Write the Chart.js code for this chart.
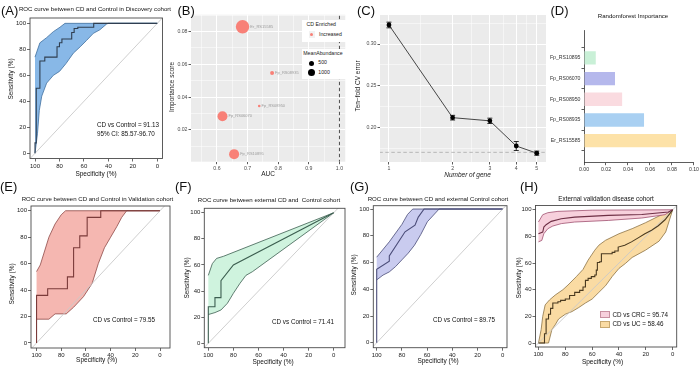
<!DOCTYPE html>
<html><head><meta charset="utf-8">
<script src="https://cdn.jsdelivr.net/npm/chart.js@4.4.1/dist/chart.umd.min.js"></script>
<style>
html,body{margin:0;padding:0;background:#fff;}
#wrap{position:relative;width:700px;height:366px;overflow:hidden;font-family:"Liberation Sans",Arial,Helvetica,sans-serif;color:#111;}
#wrap canvas{position:absolute;}
.t{position:absolute;white-space:pre;line-height:1;}
.bx{position:absolute;}
</style></head><body><div id="wrap"></div>
<script>
// ================= DATA =================
const rocTicks = [0, 20, 40, 60, 80, 100];
const chanceLine = [[110, -10], [-10, 110]];

// (A) Discovery cohort  [specificity, sensitivity]
const aCurve = [[100,0],[100,8],[99,8],[99,50],[96,50],[96,71],[92,71],[92,74],[82,74],[82,82],[80,82],[80,85],[78,85],[78,88],[70,88],[70,93],[68,93],[68,96],[65,96],[65,97],[52,97],[52,100],[0,100]];
const aUpper = [[100,74],[96,85],[90.5,89],[85,93.6],[79.6,97],[75.5,100],[0,100]];
const aLower = [[100,0],[98,15],[96.5,33],[94.5,44],[90.5,54],[85,60],[80,63],[74.7,69],[68.7,77],[63,82],[58,86.7],[52.3,92.3],[47,95],[41.4,99.5],[40,100],[0,100]];

// (B) AUC vs importance
const bGenes = ['Er_RS15585', 'Fp_RS08935', 'Fp_RS08950', 'Fp_RS06070', 'Fp_RS10895'];
const bAuc = [0.6835, 0.780, 0.738, 0.618, 0.656];
const bImportance = [0.083, 0.0548, 0.0346, 0.0283, 0.0052];
const bMeanAbundance = [3300, 290, 120, 1800, 1850];
const bXMajor = [0.6, 0.7, 0.8, 0.9, 1.0];
const bXMinor = [0.55, 0.65, 0.75, 0.85, 0.95];
const bYMajor = [0.02, 0.04, 0.06, 0.08];
const bYMinor = [0.01, 0.03, 0.05, 0.07, 0.09];
const bAucLine = 1.0;

// (C) Ten-fold CV error
const cGenes = [1, 2, 3, 4, 5];
const cError = [0.3228, 0.2116, 0.2078, 0.1776, 0.1690];
const cSe = [0.0034, 0.0028, 0.0032, 0.0054, 0.0025];
const cThreshold = 0.1700;
const cXMajor = [1, 2, 3, 4, 5];
const cXMinor = [1.414, 2.449, 3.464, 4.472];
const cYMajor = [0.20, 0.25, 0.30];
const cYMinor = [0.175, 0.225, 0.275, 0.325];

// (D) Random forest importance
const dGenes = ['Fp_RS10895', 'Fp_RS06070', 'Fp_RS08950', 'Fp_RS08935', 'Er_RS15585'];
const dImportance = [0.0107, 0.0282, 0.0347, 0.0546, 0.0837];
const dColors = ['#C9F0D7', '#B5B8EC', '#FADBE0', '#A9D0F2', '#FDE2A8'];
const dXTicks = [0, 0.02, 0.04, 0.06, 0.08, 0.10];

// (E) Validation cohort
const eCurve = [[100,0],[100,36],[91,36],[91,41],[75,41],[75,50],[70,50],[70,72],[65,72],[65,81],[59,81],[59,95],[48,95],[48,100],[0,100]];
const eUpper = [[100,54],[97,59],[94,68],[90,80],[85,90],[80,97],[76.5,100],[0,100]];
const eLower = [[100,18],[90,18],[85,22],[76,22],[70,27],[62,35],[55,45],[50,60],[45,72],[40,80],[35,88],[31,95],[27,100],[0,100]];

// (F) external CD vs Control
const fCurve = [[100,0],[100,28],[94.7,28],[94.7,35],[89.9,35],[89.9,48],[80,60],[0,100]];
const fUpper = [[100,52],[96.8,61],[93.4,65],[88,66.6],[0,100]];
const fLower = [[100,22],[94.7,23.5],[89.9,25.5],[84.8,30.6],[80,38.3],[74.7,46],[70,52],[64.9,54.8],[0,100]];

// (G) CD vs external Control
const gCurve = [[100,0],[100,55],[90,61],[90,65],[77.5,83],[69.6,88],[67,94],[62.4,100],[0,100]];
const gUpper = [[100,64],[90,75.5],[80,88.5],[75.5,96],[71.4,100],[0,100]];
const gLower = [[100,47],[95,50.6],[90,53],[85,57],[80,62],[75,67],[70,73],[65,81],[59.8,90.5],[50.5,100],[0,100]];

// (H) External validation disease cohort
const hCrcCurve = [[100,82],[96.8,83.3],[96,87],[94.3,88.8],[90.5,91.3],[83,93.3],[73,94.5],[48,95.8],[23,96.5],[3.2,98.3],[0,100]];
const hCrcUpper = [[100,90.8],[96.8,96.3],[93,97.8],[85.5,98.8],[60,99.7],[0,100]];
const hCrcLower = [[100,75.9],[97.5,77],[96,82],[93,85.8],[89.3,87.8],[83,89.6],[73,90.8],[48,92],[23,93.8],[5.7,96.3],[0,100]];
const hUcCurve = [[100,0],[95.5,0],[95.5,7],[94.3,7],[94.3,18],[92.5,18],[92.5,21.6],[91,21.6],[91,26],[89.3,26],[89.3,30],[85.5,30],[85.5,31],[83.5,31],[83.5,32],[80,32],[80,33],[76.8,33],[76.8,35.6],[73,35.6],[73,38],[69.3,38],[69.3,39.5],[66.8,39.5],[66.8,42],[65,42],[65,47],[63,47],[63,48.5],[60.6,48.5],[60.6,49.8],[58,49.8],[58,51],[56.9,51],[56.9,54.7],[56.1,54.7],[56.1,60.4],[54.4,60.4],[54.4,61],[53.1,61],[53.1,67],[45.1,67],[45.1,68],[43.1,68],[43.1,69],[40.6,69],[40.6,72],[35.7,73.4],[30.7,75.9],[25.7,78.9],[20.7,82],[15.7,84.6],[10.7,88],[5.7,92.5],[0.7,99],[0,100]];
const hUcUpper = [[100,0],[98,10],[96.8,20],[95,28.6],[91.8,32.3],[87.5,36],[81.8,40],[78,43.5],[71.8,49.8],[66.8,55.2],[63,62.2],[58,69.7],[55,73.4],[50,77.1],[40,82],[30.2,85.8],[20.2,90.3],[10.2,95.3],[0,100]];
const hUcLower = [[100,0],[92.5,0],[90,10],[87.5,13.7],[85,18],[80,21.6],[75,23.6],[70,26.6],[65,30],[60,33],[55,38],[50,43],[45,50],[40,56],[35.2,59.7],[30.2,64.2],[20.2,69.7],[10.2,76.4],[5.2,83.3],[0,100]];

// ================= RENDER =================
Chart.defaults.font.family = "'Liberation Sans', Arial, Helvetica, sans-serif";
Chart.defaults.animation = false;
Chart.defaults.responsive = false;
Chart.defaults.events = [];
Chart.defaults.plugins.legend.display = false;
Chart.defaults.plugins.tooltip.enabled = false;

const wrap = document.getElementById('wrap');
function mkCanvas(l, t, w, h) {
  const c = document.createElement('canvas');
  c.width = w; c.height = h;
  c.style.left = l + 'px'; c.style.top = t + 'px';
  c.style.width = w + 'px'; c.style.height = h + 'px';
  wrap.appendChild(c);
  return c;
}
function txt(s, x, y, size, opt) {
  opt = opt || {};
  const d = document.createElement('div');
  d.className = 't';
  d.textContent = s;
  d.style.fontSize = size + 'px';
  d.style.left = x + 'px';
  d.style.top = y + 'px';
  let tr = opt.left ? 'translate(0,-50%)' : 'translate(-50%,-50%)';
  if (opt.rot) tr += ' rotate(-90deg)';
  d.style.transform = tr;
  if (opt.color) d.style.color = opt.color;
  if (opt.italic) d.style.fontStyle = 'italic';
  wrap.appendChild(d);
  return d;
}
function box(x, y, w, h, css) {
  const d = document.createElement('div');
  d.className = 'bx';
  d.style.left = x + 'px'; d.style.top = y + 'px';
  d.style.width = w + 'px'; d.style.height = h + 'px';
  Object.assign(d.style, css || {});
  wrap.appendChild(d);
  return d;
}
const pts = arr => arr.map(p => ({x: p[0], y: p[1]}));
const poly = (up, lo) => pts(up).concat(pts(lo.slice().reverse()));
const isIn = (arr, v) => arr.some(a => Math.abs(a - v) < 1e-9);

const boxPlugin = {
  id: 'rbox',
  afterDatasetsDraw(ch) {
    const a = ch.chartArea, c = ch.ctx;
    c.save(); c.strokeStyle = '#4a4a4a'; c.lineWidth = 0.9;
    c.strokeRect(a.left, a.top, a.right - a.left, a.bottom - a.top);
    c.restore();
  }
};
const ggBg = {
  id: 'ggBg',
  beforeDraw(ch) {
    const a = ch.chartArea, c = ch.ctx;
    c.save(); c.fillStyle = '#EBEBEB';
    c.fillRect(a.left, a.top, a.right - a.left, a.bottom - a.top);
    c.restore();
  }
};

function rocAxis(range, sizeFn, horizontal) {
  return {
    type: 'linear', min: range[0], max: range[1], reverse: horizontal,
    afterBuildTicks: s => { s.ticks = rocTicks.map(v => ({value: v})); },
    afterFit: sizeFn,
    grid: {drawOnChartArea: false, drawTicks: true, tickLength: 3, tickWidth: 0.8, tickColor: '#444'},
    border: {display: false},
    ticks: {autoSkip: false, maxRotation: 0, padding: 1, color: '#222', font: {size: 6}}
  };
}

function makeROC(g, xr, yr, layers) {
  const cv = mkCanvas(g.cl, g.ct, g.cw, g.ch);
  const ds = [];
  layers.forEach(L => ds.push({data: pts(L.curve), showLine: true, borderColor: L.line, borderWidth: 1.1, pointRadius: 0, fill: false}));
  ds.push({data: pts(chanceLine), showLine: true, borderColor: '#c9c9c9', borderWidth: 0.9, pointRadius: 0, fill: false});
  layers.forEach(L => ds.push({data: poly(L.upper, L.lower), showLine: true, fill: 'shape', backgroundColor: L.fill, borderColor: L.edge, borderWidth: 0.8, pointRadius: 0}));
  new Chart(cv, {
    type: 'scatter',
    data: {datasets: ds},
    options: {
      layout: {padding: {left: 0, top: g.bt - g.ct, right: g.cl + g.cw - g.br, bottom: 0}},
      scales: {
        x: rocAxis(xr, s => { s.height = g.ct + g.ch - g.bb; }, true),
        y: rocAxis(yr, s => { s.width = g.bl - g.cl; }, false)
      }
    },
    plugins: [boxPlugin]
  });
}

// ---- A
makeROC({cl: 0, ct: 10, cw: 172, ch: 170, bl: 30, bt: 18, br: 162.5, bb: 158.5}, [-4.25, 104.1], [-4.0, 104.1],
  [{curve: aCurve, upper: aUpper, lower: aLower, fill: '#88B8E7', edge: '#3F6E9E', line: '#2F3E50'}]);
// ---- E
makeROC({cl: 0, ct: 200, cw: 175, ch: 166, bl: 31, bt: 206, br: 170, bb: 348}, [-8.1, 104.5], [-3.8, 103.6],
  [{curve: eCurve, upper: eUpper, lower: eLower, fill: '#F5B7B1', edge: '#8E4A48', line: '#7B3B3A'}]);
// ---- F
makeROC({cl: 175, ct: 200, cw: 175, ch: 166, bl: 204.3, bt: 208.3, br: 345, bb: 347.7}, [-9, 103.2], [-3.4, 103.4],
  [{curve: fCurve, upper: fUpper, lower: fLower, fill: '#CFF3DE', edge: '#3C5E50', line: '#3C5E50'}]);
// ---- G
makeROC({cl: 350, ct: 200, cw: 170, ch: 166, bl: 373.3, bt: 205.7, br: 507, bb: 347.7}, [-3.4, 102.7], [-3.7, 102.5],
  [{curve: gCurve, upper: gUpper, lower: gLower, fill: '#C9CBEF', edge: '#4A4C78', line: '#4A4C78'}]);
// ---- H
makeROC({cl: 512, ct: 200, cw: 188, ch: 166, bl: 535.5, bt: 205.5, br: 676.7, bb: 347}, [-3, 102.2], [-3, 103.2],
  [{curve: hCrcCurve, upper: hCrcUpper, lower: hCrcLower, fill: '#F7D0DC', edge: '#A05070', line: '#6E2F45'},
   {curve: hUcCurve, upper: hUcUpper, lower: hUcLower, fill: '#FADBA3', edge: '#8C7245', line: '#4A3A20'}]);

// ---- ggplot-like scale helper
function ggScale(majors, minors, fmt, extra) {
  return Object.assign({
    afterBuildTicks: s => { s.ticks = majors.concat(minors).sort((a, b) => a - b).map(v => ({value: v})); },
    grid: {
      color: '#ffffff',
      lineWidth: c => (c.tick && isIn(majors, c.tick.value)) ? 1 : 0.5,
      drawTicks: true, tickLength: 2.5, tickWidth: 0.8,
      tickColor: c => (c.tick && isIn(majors, c.tick.value)) ? '#333333' : 'rgba(0,0,0,0)'
    },
    border: {display: false},
    ticks: {autoSkip: false, maxRotation: 0, padding: 1, color: '#4D4D4D', font: {size: 5.2},
      callback: v => isIn(majors, v) ? fmt(v) : ''}
  }, extra);
}

// ---- B
(function () {
  const g = {cl: 176, ct: 8, cw: 176, ch: 172, l: 191, t: 11.7, r: 350, b: 161.7};
  const cv = mkCanvas(g.cl, g.ct, g.cw, g.ch);
  const radius = v => 3.7 * Math.sqrt(v / 1000);
  const labels = {
    id: 'bLabels',
    afterDatasetsDraw(ch) {
      const meta = ch.getDatasetMeta(0), c = ch.ctx;
      c.save(); c.fillStyle = '#9b9b9b'; c.font = "4px 'Liberation Sans', Arial, sans-serif";
      c.textBaseline = 'middle'; c.textAlign = 'left';
      meta.data.forEach((el, i) => c.fillText(bGenes[i], el.x + radius(bMeanAbundance[i]) + 1, el.y));
      c.restore();
    }
  };
  new Chart(cv, {
    type: 'scatter',
    data: {datasets: [
      {data: bAuc.map((a, i) => ({x: a, y: bImportance[i]})), pointRadius: bMeanAbundance.map(radius),
       pointBackgroundColor: 'rgba(248,118,109,0.92)', pointBorderWidth: 0},
      {data: [{x: bAucLine, y: -1}, {x: bAucLine, y: 1}], showLine: true, pointRadius: 0, borderColor: '#222',
       borderWidth: 0.8, borderDash: [3.5, 2.5]}
    ]},
    options: {
      layout: {padding: {left: 0, top: g.t - g.ct, right: g.cl + g.cw - g.r, bottom: 0}},
      scales: {
        x: ggScale(bXMajor, bXMinor, v => v.toFixed(1), {type: 'linear', min: 0.5152, max: 1.019,
          afterFit: s => { s.height = g.ct + g.ch - g.b; }}),
        y: ggScale(bYMajor, bYMinor, v => v.toFixed(2), {type: 'linear', min: 0.0006, max: 0.0903,
          afterFit: s => { s.width = g.l - g.cl; }})
      }
    },
    plugins: [ggBg, labels]
  });
})();

// ---- C
(function () {
  const g = {cl: 358, ct: 8, cw: 192, ch: 172, l: 380, t: 15, r: 547, b: 162};
  const cv = mkCanvas(g.cl, g.ct, g.cw, g.ch);
  const errBars = {
    id: 'errBars',
    afterDatasetsDraw(ch) {
      const xs = ch.scales.x, ys = ch.scales.y, c = ch.ctx;
      c.save(); c.strokeStyle = '#000'; c.lineWidth = 0.8;
      cGenes.forEach((gn, i) => {
        const x = xs.getPixelForValue(gn);
        const y1 = ys.getPixelForValue(cError[i] - cSe[i]);
        const y2 = ys.getPixelForValue(cError[i] + cSe[i]);
        c.beginPath();
        c.moveTo(x, y1); c.lineTo(x, y2);
        c.moveTo(x - 2.5, y1); c.lineTo(x + 2.5, y1);
        c.moveTo(x - 2.5, y2); c.lineTo(x + 2.5, y2);
        c.stroke();
      });
      c.restore();
    }
  };
  new Chart(cv, {
    type: 'scatter',
    data: {datasets: [
      {data: cGenes.map((gn, i) => ({x: gn, y: cError[i]})), showLine: true, borderColor: '#333', borderWidth: 0.9,
       pointRadius: 2.4, pointBackgroundColor: '#000', pointBorderWidth: 0},
      {data: [{x: 0.5, y: cThreshold}, {x: 10, y: cThreshold}], showLine: true, pointRadius: 0,
       borderColor: '#a8a8a8', borderWidth: 0.8, borderDash: [3.5, 2.5]}
    ]},
    options: {
      layout: {padding: {left: 0, top: g.t - g.ct, right: g.cl + g.cw - g.r, bottom: 0}},
      scales: {
        x: ggScale(cXMajor, cXMinor, v => String(v), {type: 'logarithmic', min: 0.907, max: 5.53,
          afterFit: s => { s.height = g.ct + g.ch - g.b; }}),
        y: ggScale(cYMajor, cYMinor, v => v.toFixed(2), {type: 'linear', min: 0.1584, max: 0.3348,
          afterFit: s => { s.width = g.l - g.cl; }})
      }
    },
    plugins: [ggBg, errBars]
  });
})();

// ---- D
(function () {
  const g = {cl: 527, ct: 22, cw: 173, ch: 158, l: 584, t: 30, r: 694.3, b: 162.7};
  const cv = mkCanvas(g.cl, g.ct, g.cw, g.ch);
  const axisCommon = {
    grid: {drawOnChartArea: false, drawTicks: true, tickLength: 2.5, tickWidth: 0.8, tickColor: '#333'},
    border: {display: true, color: '#333', width: 0.8},
    ticks: {autoSkip: false, maxRotation: 0, padding: 1, color: '#333', font: {size: 5.2}}
  };
  new Chart(cv, {
    type: 'bar',
    data: {datasets: [{
      data: dImportance.map((v, i) => ({x: v, y: i + 1})),
      backgroundColor: dColors, borderWidth: 0, barPercentage: 0.72, categoryPercentage: 0.9
    }]},
    options: {
      indexAxis: 'y',
      layout: {padding: {left: 0, top: g.t - g.ct, right: g.cl + g.cw - g.r, bottom: 0}},
      scales: {
        x: Object.assign({}, axisCommon, {type: 'linear', min: 0, max: 0.10,
          afterBuildTicks: s => { s.ticks = dXTicks.map(v => ({value: v})); },
          afterFit: s => { s.height = g.ct + g.ch - g.b; },
          ticks: Object.assign({}, axisCommon.ticks, {callback: v => v.toFixed(2)})}),
        y: Object.assign({}, axisCommon, {type: 'linear', reverse: true, min: 0.292, max: 5.425,
          afterBuildTicks: s => { s.ticks = dGenes.map((n, i) => ({value: i + 1})); },
          afterFit: s => { s.width = g.l - g.cl; },
          ticks: Object.assign({}, axisCommon.ticks, {callback: v => dGenes[Math.round(v) - 1]})})
      }
    }
  });
})();

// ================= TEXT =================
// panel letters
[['(A)', 1, 9.5], ['(B)', 177.5, 9.5], ['(C)', 357, 9.5], ['(D)', 550.5, 9.5],
 ['(E)', 0, 186], ['(F)', 175, 186], ['(G)', 350, 186], ['(H)', 520, 186]].forEach(p => txt(p[0], p[1], p[2], 13, {left: true}));

// titles
txt('ROC curve between CD and Control in Discovery cohort', 95, 9, 6.1);
txt('Randomforest Importance', 633, 15.7, 6.1);
txt('ROC curve between CD and Control in Validation cohort', 97.5, 199, 6.1);
txt('ROC curve between external CD and  Control cohort', 269, 199.5, 6.1);
txt('ROC curve between CD and external Control cohort', 438, 199, 6.1);
txt('External validation disease cohort', 606, 199, 6.4);

// axis titles
const SP = 'Specificity (%)', SE = 'Sensitivity (%)';
txt(SE, 10.5, 79, 6.5, {rot: true}); txt(SP, 96, 174, 6.5);
txt('Importance score', 172, 87, 6.5, {rot: true, color: '#222'}); txt('AUC', 268, 174.3, 6.5, {color: '#222'});
txt('Ten\u2212fold CV error', 357.5, 86, 6.5, {rot: true, color: '#222'}); txt('Number of gene', 467.5, 174.5, 6.5, {italic: true, color: '#222'});
txt(SE, 11.5, 284, 6.5, {rot: true}); txt(SP, 96.7, 360, 6.5);
txt(SE, 186.7, 277.5, 6.5, {rot: true}); txt(SP, 273, 361.5, 6.5);
txt(SE, 354, 275, 6.5, {rot: true}); txt(SP, 438, 360.5, 6.5);
txt(SE, 519, 277.5, 6.5, {rot: true}); txt(SP, 602.5, 361.5, 6.5);

// annotations
txt('CD vs Control = 91.13', 97, 125, 6.3, {left: true});
txt('95% CI: 85.57-96.70', 97, 134.3, 6.3, {left: true});
txt('CD vs Control = 79.55', 93, 320, 6.3, {left: true});
txt('CD vs Control = 71.41', 272, 321.7, 6.3, {left: true});
txt('CD vs Control = 89.75', 433, 320, 6.3, {left: true});
box(600, 311, 10, 7, {background: '#F7D0DC', border: '0.5px solid #C890A0', boxSizing: 'border-box'});
txt('CD vs CRC = 95.74', 612.5, 314.5, 6.3, {left: true});
box(600, 320.7, 10, 7, {background: '#FADBA3', border: '0.5px solid #C8A870', boxSizing: 'border-box'});
txt('CD vs UC = 58.46', 612.5, 324, 6.3, {left: true});

// B legend
box(301.7, 20, 48.3, 21.7, {background: '#fff'});
txt('CD Enriched', 306.5, 25.3, 5.2, {left: true, color: '#222'});
box(308.5, 31.2, 6.5, 6.5, {background: '#F2F2F2'});
box(310.2, 32.9, 3.1, 3.1, {background: 'rgba(248,118,109,0.92)', borderRadius: '50%'});
txt('Increased', 319, 34.5, 5.2, {left: true, color: '#222'});
box(301.7, 48.5, 48.3, 30, {background: '#fff'});
txt('MeanAbundance', 303.3, 53.5, 5.2, {left: true, color: '#222'});
box(309, 60.6, 5.4, 5.4, {background: '#000', borderRadius: '50%'});
txt('500', 318.3, 63.4, 5.2, {left: true, color: '#222'});
box(308, 69, 7.4, 7.4, {background: '#000', borderRadius: '50%'});
txt('1000', 318.3, 72.8, 5.2, {left: true, color: '#222'});
</script>
</body></html>
